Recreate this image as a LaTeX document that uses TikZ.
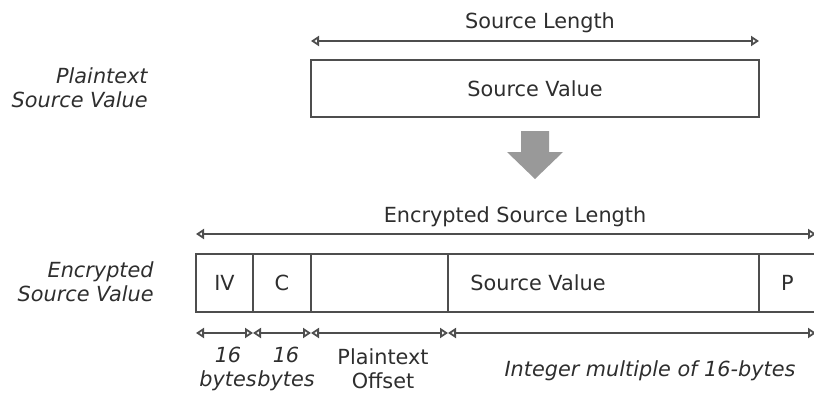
\documentclass[tikz,border=0pt]{standalone}
\usepackage{fontspec}
\setmainfont{DejaVu Sans}
\usepackage{tikz}
\usetikzlibrary{arrows.meta,positioning}

\definecolor{linegray}{HTML}{4E4E4E}
\definecolor{txtgray}{HTML}{2E2E2E}
\definecolor{arrowgray}{HTML}{999999}

\tikzset{
    lbl/.style={font=\fontsize{10.4}{12}\selectfont, text=txtgray, inner sep=0pt},
    ilbl/.style={lbl, font=\fontsize{10.4}{12}\selectfont\itshape},
    cell/.style={lbl, draw=linegray, line width=1pt, outer sep=0pt, minimum height=29pt},
    dim/.style={draw=linegray, line width=0.9pt,
        {Triangle[open,length=4pt,width=5pt]}-{Triangle[open,length=4pt,width=5pt]}}
}

\begin{document}
\begin{tikzpicture}[x=0.5pt,y=-0.5pt]
        \useasboundingbox (0,0) rectangle (814,396);
        % plaintext row
        \node[cell, minimum width=224pt, minimum height=28.5pt, anchor=north west] (plain) at (311,60) {Source Value};
        \node[ilbl, align=right, anchor=east] (plainlbl) at (148,88) {Plaintext\\Source Value};
        \coordinate (plaindim) at (0,41);
        \draw[dim] (plain.west |- plaindim) -- (plain.east |- plaindim);
        \node[lbl, anchor=base] (srclen) at (540,28) {Source Length};
        % down arrow
        \fill[arrowgray] (521,131) -- (549,131) -- (549,152) -- (563,152) -- (535,179) -- (507,152) -- (521,152) -- cycle;
        % encrypted row
        \node[cell, minimum width=28.5pt, anchor=north west] (iv) at (196,254) {IV};
        \node[cell, minimum width=29pt, right=0pt of iv] (cc) {C};
        \node[cell, minimum width=68.5pt, right=0pt of cc] (off) {};
        \node[cell, minimum width=155.5pt, right=0pt of off] (src) {};
        \node[cell, minimum width=28.5pt, right=0pt of src] (pad) {P};
        \node[lbl] (srctxt) at (538,283) {Source Value};
        \node[ilbl, align=right, anchor=east] (enclbl) at (154,282) {Encrypted\\Source Value};
        \coordinate (encdim) at (0,234);
        \draw[dim] (iv.west |- encdim) -- (pad.east |- encdim);
        \node[lbl, anchor=base] (enclen) at (515,222) {Encrypted Source Length};
        % lengths below
        \coordinate (partdim) at (0,333);
        \draw[dim] (iv.west |- partdim) -- (iv.east |- partdim);
        \draw[dim] (cc.west |- partdim) -- (cc.east |- partdim);
        \draw[dim] (off.west |- partdim) -- (off.east |- partdim);
        \draw[dim] (src.west |- partdim) -- (pad.east |- partdim);
        \node[ilbl, align=center] (ivlen) at (228,369) {16\\bytes};
        \node[ilbl, align=center] (clen) at (286,369) {16\\bytes};
        \node[lbl, align=center] (offlen) at (383,369) {Plaintext\\Offset};
        \node[ilbl, anchor=base] (srcmul) at (650,376) {Integer multiple of 16-bytes};
\end{tikzpicture}
\end{document}
